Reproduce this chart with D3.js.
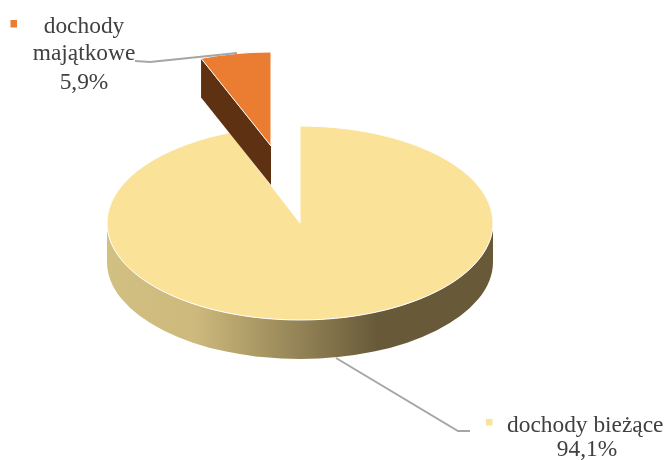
<!DOCTYPE html>
<html>
<head>
<meta charset="utf-8">
<script src="https://cdnjs.cloudflare.com/ajax/libs/d3/7.8.5/d3.min.js"></script>
<style>
  html, body { margin: 0; padding: 0; background: #fff; }
  svg { display: block; }
  text { font-family: "Liberation Serif", serif; font-size: 23.4px; fill: #404040; }
</style>
</head>
<body>
<div id="chart"></div>
<script>
var categories = ["dochody bieżące", "dochody majątkowe"];
var values = [94.1, 5.9];
var topColors = ["#fbe299", "#eb7d32"];

var width = 667;
var height = 460;

var rx = 193;
var ry = 97;
var ryExploded = 94;
var depth = 39;
var center = {x: 300, y: 223};
var explodedCenter = {x: 271, y: 146};

var svg = d3.select("#chart")
  .append("svg")
    .attr("width", width)
    .attr("height", height);

var defs = svg.append("defs");

// side of the big slice gets lit from the left
var grad = defs.append("linearGradient")
    .attr("id", "wall")
    .attr("gradientUnits", "userSpaceOnUse")
    .attr("x1", center.x - rx).attr("x2", center.x + rx)
    .attr("y1", 0).attr("y2", 0);
grad.append("stop").attr("offset", "0").attr("stop-color", "#d2bf82");
grad.append("stop").attr("offset", "0.23").attr("stop-color", "#cdb97c");
grad.append("stop").attr("offset", "0.7").attr("stop-color", "#685a39");
grad.append("stop").attr("offset", "1").attr("stop-color", "#685a39");

defs.append("filter").attr("id", "soft")
  .append("feGaussianBlur").attr("stdDeviation", 0.4);

var pie = d3.pie().sort(null)(values);
var arc = d3.arc().innerRadius(0).outerRadius(rx);

// front wall of the big slice
svg.append("path")
    .attr("d", "M" + (center.x - rx) + "," + center.y +
      "A" + rx + "," + ry + " 0 0 0 " + (center.x + rx) + "," + center.y +
      "V" + (center.y + depth) +
      "A" + rx + "," + ry + " 0 0 1 " + (center.x - rx) + "," + (center.y + depth) + "Z")
    .attr("fill", "url(#wall)");

function drawTop(i, c, r) {
  svg.append("g")
      .attr("transform", "translate(" + c.x + "," + c.y + ") scale(1," + (r / rx) + ")")
    .append("path")
      .attr("d", arc(pie[i]))
      .attr("fill", topColors[i])
      .attr("stroke", "#fff")
      .attr("stroke-width", 1)
      .attr("vector-effect", "non-scaling-stroke");
}

drawTop(0, center, ry);

// cut face of the pulled out slice
var outer = [
  explodedCenter.x + rx * Math.sin(pie[1].startAngle),
  explodedCenter.y - ryExploded * Math.cos(pie[1].startAngle)
];
svg.append("path")
    .attr("d", d3.line()([
      [explodedCenter.x, explodedCenter.y],
      outer,
      [outer[0], outer[1] + depth],
      [explodedCenter.x, explodedCenter.y + depth]
    ]) + "Z")
    .attr("fill", "#5e3112");

drawTop(1, explodedCenter, ryExploded);

// leader lines
var line = d3.line();
var leaders = svg.append("g")
    .attr("filter", "url(#soft)")
    .attr("fill", "none")
    .attr("stroke", "#a6a6a6")
    .attr("stroke-width", 2);
leaders.append("path").attr("d", line([[135, 61], [150, 62], [237, 53]]));
leaders.append("path").attr("d", line([[336, 358], [458, 431], [470, 431]]));

function pct(v) {
  return v.toFixed(1).replace(".", ",") + "%";
}

var labels = svg.append("g").attr("filter", "url(#soft)");

// lower label
labels.append("rect")
    .attr("x", 486).attr("y", 419).attr("width", 6.5).attr("height", 6.5)
    .attr("fill", topColors[0]);
labels.append("text").attr("x", 507).attr("y", 432).text(categories[0]);
labels.append("text").attr("x", 587).attr("y", 456).attr("text-anchor", "middle").text(pct(values[0]));

// upper label, wrapped on three lines
var parts = categories[1].split(" ");
labels.append("rect")
    .attr("x", 10.5).attr("y", 20).attr("width", 6.5).attr("height", 7.5)
    .attr("fill", topColors[1]);
labels.append("text").attr("x", 84).attr("y", 33).attr("text-anchor", "middle").text(parts[0]);
labels.append("text").attr("x", 84).attr("y", 60).attr("text-anchor", "middle").text(parts[1]);
labels.append("text").attr("x", 84).attr("y", 89).attr("text-anchor", "middle").text(pct(values[1]));
</script>
</body>
</html>
